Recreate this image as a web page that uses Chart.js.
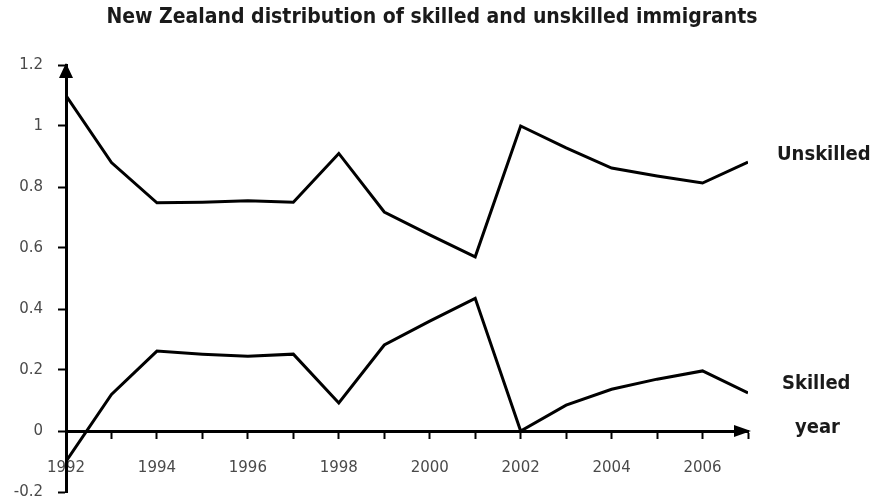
<!DOCTYPE html>
<html>
<head>
<meta charset="utf-8">
<script src="https://cdn.jsdelivr.net/npm/chart.js@4.4.1/dist/chart.umd.min.js"></script>
<style>
  html, body { margin: 0; padding: 0; background: #fff; }
  #wrap { width: 875px; height: 501px; }
</style>
</head>
<body>
<div id="wrap"><canvas id="c" width="875" height="501"></canvas></div>
<script>
const years = [1992,1993,1994,1995,1996,1997,1998,1999,2000,2001,2002,2003,2004,2005,2006,2007];
const unskilled = [1.10,0.88,0.748,0.75,0.755,0.75,0.91,0.718,0.643,0.571,1.00,0.928,0.862,0.836,0.813,0.882];
const skilled = [-0.10,0.12,0.262,0.252,0.245,0.252,0.092,0.282,0.36,0.435,0.0,0.085,0.137,0.17,0.197,0.125];
const yTicks = [-0.2,0,0.2,0.4,0.6,0.8,1,1.2];
const titleText = 'New Zealand distribution of skilled and unskilled immigrants';
const seriesNames = ['Unskilled','Skilled'];
const xAxisName = 'year';

const labelFont = '"DejaVu Sans Condensed", "DejaVu Sans", sans-serif';
const tickFont = '"DejaVu Sans", sans-serif';

const decorPlugin = {
  id: 'decor',
  afterDraw(chart) {
    const ctx = chart.ctx;
    const ca = chart.chartArea;
    const ys = chart.scales.y;
    const y0 = ys.getPixelForValue(0);
    ctx.save();
    ctx.fillStyle = '#000';
    // y-axis arrow
    ctx.beginPath();
    ctx.moveTo(ca.left, ca.top - 2);
    ctx.lineTo(ca.left - 7, ca.top + 13);
    ctx.lineTo(ca.left + 7, ca.top + 13);
    ctx.closePath();
    ctx.fill();
    // x-axis arrow
    ctx.beginPath();
    ctx.moveTo(ca.right + 3, y0);
    ctx.lineTo(ca.right - 14, y0 - 6);
    ctx.lineTo(ca.right - 14, y0 + 6);
    ctx.closePath();
    ctx.fill();
    // title
    ctx.fillStyle = '#1a1a1a';
    ctx.font = 'bold 21px ' + labelFont;
    ctx.textAlign = 'center';
    ctx.textBaseline = 'middle';
    ctx.fillText(titleText, 432, 18);
    // series labels
    ctx.font = 'bold 20px ' + labelFont;
    ctx.textAlign = 'left';
    ctx.fillText(seriesNames[0], ca.right + 29, 155);
    ctx.fillText(seriesNames[1], ca.right + 34, 384);
    ctx.fillText(xAxisName, ca.right + 47, 428);
    ctx.restore();
  }
};

const toPts = arr => arr.map((v, i) => ({x: years[i], y: v}));

new Chart(document.getElementById('c'), {
  type: 'line',
  data: {
    datasets: [
      { label: seriesNames[0], data: toPts(unskilled), borderColor: '#000', borderWidth: 3, pointRadius: 0, tension: 0, fill: false },
      { label: seriesNames[1], data: toPts(skilled), borderColor: '#000', borderWidth: 3, pointRadius: 0, tension: 0, fill: false }
    ]
  },
  options: {
    responsive: false,
    animation: false,
    devicePixelRatio: 1,
    layout: { padding: { left: 0, right: 127, top: 65, bottom: 9 } },
    plugins: { legend: { display: false }, title: { display: false }, tooltip: { enabled: false } },
    scales: {
      x: {
        type: 'linear',
        position: { y: 0 },
        min: years[0], max: years[years.length - 1],
        afterBuildTicks: s => { s.ticks = years.map(v => ({value: v})); },
        afterFit: s => { s.height = 0; s.paddingTop = 0; s.paddingBottom = 0; s.paddingLeft = 0; s.paddingRight = 0; },
        ticks: {
          autoSkip: false, maxRotation: 0, padding: 22,
          color: '#4a4a4a',
          font: { family: tickFont, size: 15 },
          callback: v => (v % 2 === 0 ? String(v) : '')
        },
        grid: { display: true, drawOnChartArea: false, tickLength: 6, tickWidth: 2, tickColor: '#000' },
        border: { display: true, color: '#000', width: 3 }
      },
      y: {
        type: 'linear',
        min: -0.2, max: 1.2,
        afterBuildTicks: s => { s.ticks = yTicks.map(v => ({value: v})); },
        afterFit: s => { s.width = 66; s.paddingTop = 0; s.paddingBottom = 0; },
        ticks: {
          padding: 15,
          color: '#4a4a4a',
          font: { family: tickFont, size: 15 },
          callback: v => String(Math.round(v * 10) / 10)
        },
        grid: { display: true, drawOnChartArea: false, tickLength: 8, tickWidth: 2, tickColor: '#000' },
        border: { display: true, color: '#000', width: 3 }
      }
    }
  },
  plugins: [decorPlugin]
});
</script>
</body>
</html>
